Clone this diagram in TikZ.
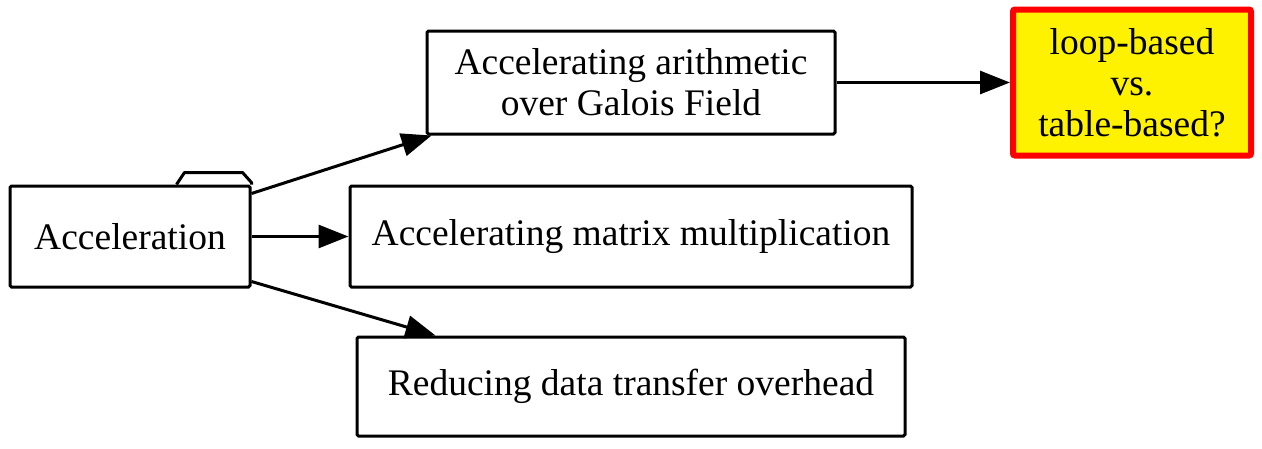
\documentclass[tikz,border=0pt]{standalone}
\usepackage{fontspec}
\setmainfont{Liberation Serif}
\newfontfamily\tms{Liberation Serif}
\usetikzlibrary{arrows.meta}
\begin{document}
\begin{tikzpicture}[x=1pt, y=-1pt,
        b/.style={draw, line width=3pt, inner sep=0pt, rounded corners=1.5pt},
        q/.style={draw=red, fill=yellow, line width=6pt, inner sep=0pt, rounded corners=2pt},
        e/.style={line width=3pt, -{Triangle[length=30pt, width=23pt]}},
        every node/.style={align=center, font=\tms\fontsize{37.5}{41}\selectfont}]
        \useasboundingbox (0,0) rectangle (1262,448);

        \node[b, minimum width=240pt, minimum height=101pt] (accel) at (130,236.5) {Acceleration};
        \draw[line width=3pt, line join=round] ([xshift=-75pt]accel.north east) -- ++(8,-12) -- ++(58,0) -- ++(9,10) -- ++(0,2);

        \node[b, minimum width=408pt, minimum height=103pt] (galois) at (631,82.5) {Accelerating arithmetic\\over Galois Field};
        \node[b, minimum width=562pt, minimum height=101pt] (matrix) at (631,236.5) {Accelerating matrix multiplication};
        \node[b, minimum width=548pt, minimum height=99pt] (reduce) at (631,386.5) {Reducing data transfer overhead};
        \node[q, minimum width=238pt, minimum height=146pt] (loop) at (1132,82.5) {loop-based\\vs.\\table-based?};

        \draw[e] ([yshift=-9pt]accel.north east) -- ([xshift=6pt]galois.south west);
        \draw[e] (accel.east) -- (matrix.west);
        \draw[e] ([yshift=7pt]accel.south east) -- ([xshift=80pt]reduce.north west);
        \draw[e] (galois.east) -- (loop.west);
    \end{tikzpicture}
\end{document}
